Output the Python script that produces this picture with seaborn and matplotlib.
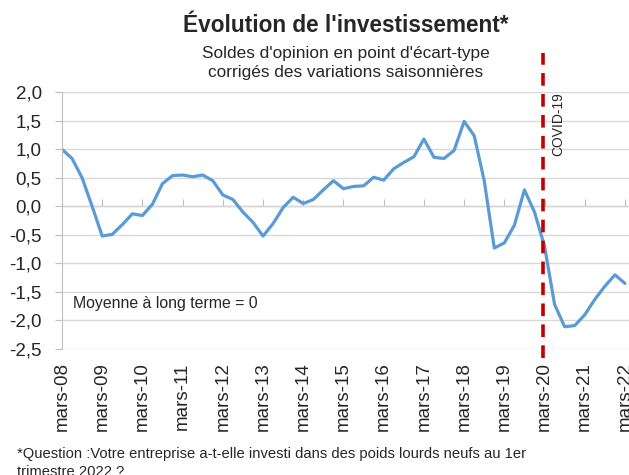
import numpy as np
import pandas as pd
import matplotlib
matplotlib.use("Agg")
import matplotlib.pyplot as plt
import seaborn as sns

# Data: quarterly balance of opinion (std dev), mars-08 .. mars-22
values = [1.00, 0.84, 0.50, 0.00, -0.52, -0.49, -0.32, -0.13, -0.16, 0.04,
          0.40, 0.54, 0.55, 0.52, 0.55, 0.45, 0.20, 0.12, -0.10, -0.28,
          -0.52, -0.30, -0.02, 0.16, 0.05, 0.12, 0.29, 0.45, 0.31, 0.35,
          0.36, 0.51, 0.46, 0.66, 0.77, 0.87, 1.18, 0.86, 0.84, 0.98,
          1.49, 1.24, 0.45, -0.73, -0.64, -0.33, 0.29, -0.10, -0.70, -1.72,
          -2.11, -2.09, -1.90, -1.63, -1.40, -1.20, -1.35]
quarters = list(range(len(values)))
year_labels = ["mars-08", "mars-09", "mars-10", "mars-11", "mars-12", "mars-13",
               "mars-14", "mars-15", "mars-16", "mars-17", "mars-18", "mars-19",
               "mars-20", "mars-21", "mars-22"]
year_ticks = [4 * i for i in range(len(year_labels))]
y_ticks = [2.0, 1.5, 1.0, 0.5, 0.0, -0.5, -1.0, -1.5, -2.0, -2.5]
covid_x = 47.85

df = pd.DataFrame({"trimestre": quarters, "solde": values})

sns.set_style("white")
plt.rcParams['font.family'] = ['Liberation Sans', 'DejaVu Sans']

fig = plt.figure(figsize=(6.29, 4.75), dpi=100)
ax = fig.add_axes([62 / 629, 126 / 475, 567 / 629, 256.7 / 475])

sns.lineplot(data=df, x="trimestre", y="solde", color="#5b9bd5", linewidth=2.3, ax=ax)

ax.set_xlim(0, 56.4)
ax.set_ylim(-2.5, 2.0)

# y axis
ax.set_yticks(y_ticks)
ax.set_yticklabels([f"{v:.1f}".replace(".", ",") for v in y_ticks], fontsize=13.5)
ax.yaxis.grid(True, color="#d9d9d9", linewidth=1)
ax.tick_params(axis="y", direction="out", length=5, color="#bfbfbf", pad=9.5, left=True)

# x labels at the bottom, tick marks on the zero line
ax.set_xticks(year_ticks)
ax.set_xticklabels(year_labels, rotation=90, fontsize=13.5)
ax.tick_params(axis="x", length=0, pad=9.5)
ax.set_xlabel("")
ax.set_ylabel("")

for s in ["top", "right", "bottom"]:
    ax.spines[s].set_visible(False)
ax.spines["left"].set_color("#bfbfbf")

zero_axis = ax.secondary_xaxis(2.5 / 4.5)
zero_axis.set_xticks(year_ticks)
zero_axis.set_xticklabels([])
zero_axis.tick_params(axis="x", direction="out", length=5, color="#bfbfbf")
zero_axis.spines["bottom"].set_color("#bfbfbf")
zero_axis.spines["bottom"].set_linewidth(1)

# COVID marker
ax.plot([covid_x, covid_x], [-2.65, 2.69], color="#c00000", linewidth=2.6,
        dashes=(3.5, 2.3), clip_on=False)
ax.text(covid_x + 1.55, 1.445, "COVID-19", rotation=90, fontsize=10,
        ha="center", va="center")

ax.text(1.1, -1.70, "Moyenne à long terme = 0", fontsize=11.4, ha="left", va="center")

# Titles
fig.text(346 / 629, 1 - 26 / 475, "Évolution de l'investissement*", fontsize=16.3,
         fontweight="bold", ha="center", va="center")
fig.text(346 / 629, 1 - 63 / 475,
         "Soldes d'opinion en point d'écart-type\ncorrigés des variations saisonnières",
         fontsize=12.4, ha="center", va="center", linespacing=1.3)

fig.text(17 / 629, 1 - 447 / 475,
         "*Question :Votre entreprise a-t-elle investi dans des poids lourds neufs au 1er\ntrimestre 2022 ?",
         fontsize=10.6, ha="left", va="top", linespacing=1.35)

fig.savefig("out.png", dpi=100)
